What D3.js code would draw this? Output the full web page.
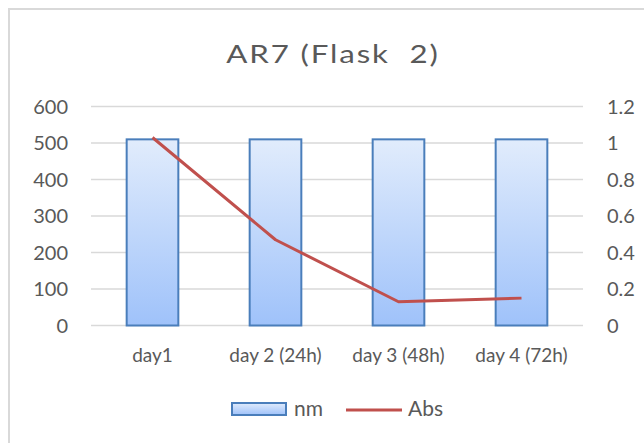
<!DOCTYPE html>
<html lang="en">
<head>
    <meta charset="UTF-8">
    <script src="https://d3js.org/d3.v7.min.js"></script>
    <title>AR7 (Flask 2)</title>
    <style>
        body { margin: 0; background: #fff; }
        text { font-family: Lato, "Open Sans", sans-serif; fill: #595959; }
    </style>
</head>
<body>
    <div id="chart"></div>

    <script type="text/javascript">
        const days = ["day1", "day 2 (24h)", "day 3 (48h)", "day 4 (72h)"];
        const nmValues = [510, 510, 510, 510];
        const absValues = [1.03, 0.47, 0.13, 0.15];
        const leftTicks = [0, 100, 200, 300, 400, 500, 600];
        const rightTicks = [0, 0.2, 0.4, 0.6, 0.8, 1, 1.2];

        const width = 644;
        const height = 443;
        const plot = { left: 91, right: 583, top: 106.5, bottom: 325.5 };

        const svg = d3.select("#chart")
            .append("svg")
            .attr("width", width)
            .attr("height", height);

        // chart border (only top/left visible in the crop)
        svg.append("rect")
            .attr("x", 9).attr("y", 9)
            .attr("width", width + 20).attr("height", height + 20)
            .attr("fill", "none")
            .attr("stroke", "#d9d9d9")
            .attr("stroke-width", 2);

        const defs = svg.append("defs");
        const grad = defs.append("linearGradient")
            .attr("id", "barGrad")
            .attr("x1", 0).attr("y1", 0).attr("x2", 0).attr("y2", 1);
        grad.append("stop").attr("offset", "0%").attr("stop-color", "#e1ecfc");
        grad.append("stop").attr("offset", "100%").attr("stop-color", "#9fc2fa");

        const x = d3.scaleBand()
            .domain(days)
            .range([plot.left, plot.right])
            .paddingInner(0.58)
            .paddingOuter(0.29);

        const yLeft = d3.scaleLinear().domain([0, 600]).range([plot.bottom, plot.top]);
        const yRight = d3.scaleLinear().domain([0, 1.2]).range([plot.bottom, plot.top]);

        // gridlines
        svg.selectAll(".grid")
            .data(leftTicks)
            .enter()
            .append("line")
            .attr("x1", plot.left)
            .attr("x2", plot.right)
            .attr("y1", d => yLeft(d))
            .attr("y2", d => yLeft(d))
            .attr("stroke", "#d9d9d9")
            .attr("stroke-width", 1.5);

        // left axis labels
        svg.selectAll(".ltick")
            .data(leftTicks)
            .enter()
            .append("text")
            .attr("x", 68)
            .attr("y", d => yLeft(d))
            .attr("dy", "0.35em")
            .attr("text-anchor", "end")
            .style("font-size", "20px")
            .text(d => d);

        // right axis labels
        svg.selectAll(".rtick")
            .data(rightTicks)
            .enter()
            .append("text")
            .attr("x", 607)
            .attr("y", d => yRight(d))
            .attr("dy", "0.35em")
            .attr("text-anchor", "start")
            .style("font-size", "20px")
            .text(d => d);

        // bars
        svg.selectAll(".bar")
            .data(days)
            .enter()
            .append("rect")
            .attr("x", d => x(d))
            .attr("y", (d, i) => yLeft(nmValues[i]))
            .attr("width", x.bandwidth())
            .attr("height", (d, i) => yLeft(0) - yLeft(nmValues[i]))
            .attr("fill", "url(#barGrad)")
            .attr("stroke", "#4a7ebb")
            .attr("stroke-width", 2);

        // category labels
        svg.selectAll(".xlabel")
            .data(days)
            .enter()
            .append("text")
            .attr("x", d => x(d) + x.bandwidth() / 2)
            .attr("y", 355)
            .attr("dy", "0.35em")
            .attr("text-anchor", "middle")
            .style("font-size", "19px")
            .text(d => d);

        // Abs line
        const line = d3.line()
            .x((d, i) => x(days[i]) + x.bandwidth() / 2)
            .y(d => yRight(d));

        svg.append("path")
            .datum(absValues)
            .attr("d", line)
            .attr("fill", "none")
            .attr("stroke", "#c0504d")
            .attr("stroke-width", 3)
            .attr("stroke-linejoin", "round");

        // title
        svg.append("text")
            .attr("transform", "translate(333,63) scale(1.25,1)")
            .attr("text-anchor", "middle")
            .style("font-size", "25px")
            .style("letter-spacing", "1.5px")
            .text("AR7 (Flask\u00a0 2)");

        // legend
        const legend = svg.append("g");
        legend.append("rect")
            .attr("x", 232).attr("y", 403)
            .attr("width", 54).attr("height", 12)
            .attr("fill", "url(#barGrad)")
            .attr("stroke", "#4a7ebb")
            .attr("stroke-width", 2);
        legend.append("text")
            .attr("x", 294).attr("y", 409)
            .attr("dy", "0.35em")
            .style("font-size", "21px")
            .text("nm");
        legend.append("line")
            .attr("x1", 346).attr("x2", 402)
            .attr("y1", 410).attr("y2", 410)
            .attr("stroke", "#c0504d")
            .attr("stroke-width", 3);
        legend.append("text")
            .attr("x", 408).attr("y", 409)
            .attr("dy", "0.35em")
            .style("font-size", "21px")
            .text("Abs");
    </script>
</body>
</html>
